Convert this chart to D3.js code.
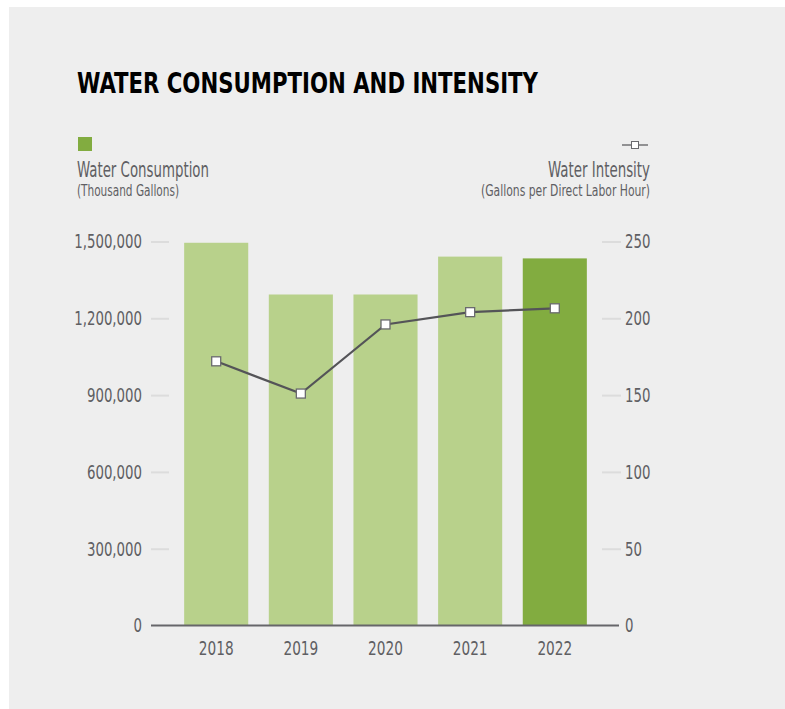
<!DOCTYPE html>
<html>
<head>
<meta charset="utf-8">
<script src="https://cdn.jsdelivr.net/npm/d3@7"></script>
<style>
  html, body { margin: 0; padding: 0; background: #fff; }
  svg { display: block; }
  text { font-family: "Liberation Sans Narrow", "DejaVu Sans Condensed", "Roboto", sans-serif; }
</style>
</head>
<body>
<svg id="chart"></svg>
<script>
// data
const years = ['2018', '2019', '2020', '2021', '2022'];
const consumption = [1495000, 1293000, 1293000, 1441000, 1434000];
const intensity = [172, 151, 196, 204, 206.5];
const leftTicks = [0, 300000, 600000, 900000, 1200000, 1500000];
const rightTicks = [0, 50, 100, 150, 200, 250];

const width = 785;
const height = 709;
const textColor = '#5f5f63';
const fontStack = '"Liberation Sans Narrow", "DejaVu Sans Condensed", sans-serif';

const svg = d3.select('#chart')
  .attr('width', width)
  .attr('height', height);

// squeeze text horizontally (the original font is a narrow one)
function squeeze(sel, k) {
  sel.each(function () {
    const len = this.getComputedTextLength();
    d3.select(this)
      .attr('textLength', len * k)
      .attr('lengthAdjust', 'spacingAndGlyphs');
  });
}

// card background
svg.append('rect')
  .attr('x', 9).attr('y', 7)
  .attr('width', width - 9).attr('height', height - 7)
  .attr('fill', '#eeeeee');

// title
svg.append('text')
  .attr('x', 77).attr('y', 93)
  .attr('font-size', 29)
  .attr('font-weight', 'bold')
  .attr('fill', '#000')
  .attr('textLength', 461)
  .attr('lengthAdjust', 'spacingAndGlyphs')
  .text('WATER CONSUMPTION AND INTENSITY');

// scales
const x = d3.scaleBand()
  .domain(years)
  .range([174, 597])
  .paddingInner(0.243)
  .paddingOuter(0.12);

const yLeft = d3.scaleLinear()
  .domain([0, 1500000])
  .range([625.5, 241.5]);

const yRight = d3.scaleLinear()
  .domain([0, 250])
  .range([625.5, 241.5]);

// left axis
const leftAxis = svg.append('g')
  .attr('transform', 'translate(169,0)')
  .call(d3.axisLeft(yLeft)
    .tickValues(leftTicks)
    .tickSize(18)
    .tickPadding(9)
    .tickFormat(d3.format(',')));

// right axis
const rightAxis = svg.append('g')
  .attr('transform', 'translate(602,0)')
  .call(d3.axisRight(yRight)
    .tickValues(rightTicks)
    .tickSize(19)
    .tickPadding(4)
    .tickFormat(d3.format('d')));

[leftAxis, rightAxis].forEach(g => {
  g.select('.domain').remove();
  g.selectAll('.tick line').attr('stroke', '#dcdcdc').attr('stroke-width', 2);
  g.selectAll('.tick text')
    .attr('fill', textColor)
    .attr('font-size', 20)
    .attr('font-family', fontStack)
    .call(squeeze, 0.74);
});
leftAxis.selectAll('.tick').filter(d => d === 0).select('line').remove();
rightAxis.selectAll('.tick').filter(d => d === 0).select('line').remove();

// bars
svg.append('g')
  .selectAll('rect')
  .data(years)
  .enter()
  .append('rect')
  .attr('x', d => x(d))
  .attr('y', (d, i) => yLeft(consumption[i]))
  .attr('width', x.bandwidth())
  .attr('height', (d, i) => yLeft(0) - yLeft(consumption[i]))
  .attr('fill', (d, i) => i === years.length - 1 ? '#82ac40' : '#b8d18b');

// baseline / x axis
const xAxis = svg.append('g')
  .attr('transform', `translate(0,${yLeft(0)})`)
  .call(d3.axisBottom(x).tickSize(0).tickPadding(15));
xAxis.select('.domain').remove();
xAxis.append('line')
  .attr('x1', 151).attr('x2', 619)
  .attr('stroke', '#66666a').attr('stroke-width', 2.2);
xAxis.selectAll('.tick text')
  .attr('fill', textColor)
  .attr('font-size', 20)
  .attr('font-family', fontStack)
  .call(squeeze, 0.76);

// intensity line
const line = d3.line()
  .x((d, i) => x(years[i]) + x.bandwidth() / 2)
  .y(d => yRight(d));

svg.append('path')
  .datum(intensity)
  .attr('d', line)
  .attr('fill', 'none')
  .attr('stroke', '#545458')
  .attr('stroke-width', 2.2);

svg.append('g')
  .selectAll('rect')
  .data(intensity)
  .enter()
  .append('rect')
  .attr('x', (d, i) => x(years[i]) + x.bandwidth() / 2 - 4.5)
  .attr('y', d => yRight(d) - 4.5)
  .attr('width', 9).attr('height', 9)
  .attr('fill', '#fff')
  .attr('stroke', '#6a6a6e')
  .attr('stroke-width', 1.3);

// legend left
svg.append('rect')
  .attr('x', 78).attr('y', 137)
  .attr('width', 14).attr('height', 14)
  .attr('fill', '#82ac40');

svg.append('text')
  .attr('x', 77).attr('y', 177)
  .attr('font-size', 21)
  .attr('fill', textColor)
  .attr('textLength', 132)
  .attr('lengthAdjust', 'spacingAndGlyphs')
  .text('Water Consumption');

svg.append('text')
  .attr('x', 77).attr('y', 196)
  .attr('font-size', 16)
  .attr('fill', textColor)
  .attr('textLength', 102)
  .attr('lengthAdjust', 'spacingAndGlyphs')
  .text('(Thousand Gallons)');

// legend right
svg.append('line')
  .attr('x1', 622).attr('x2', 648)
  .attr('y1', 145).attr('y2', 145)
  .attr('stroke', '#545458').attr('stroke-width', 1.2);
svg.append('rect')
  .attr('x', 631.5).attr('y', 141.5)
  .attr('width', 7).attr('height', 7)
  .attr('fill', '#fff')
  .attr('stroke', '#6a6a6e')
  .attr('stroke-width', 1);

svg.append('text')
  .attr('x', 548).attr('y', 177)
  .attr('font-size', 21)
  .attr('fill', textColor)
  .attr('textLength', 102)
  .attr('lengthAdjust', 'spacingAndGlyphs')
  .text('Water Intensity');

svg.append('text')
  .attr('x', 481).attr('y', 196)
  .attr('font-size', 16)
  .attr('fill', textColor)
  .attr('textLength', 169)
  .attr('lengthAdjust', 'spacingAndGlyphs')
  .text('(Gallons per Direct Labor Hour)');
</script>
</body>
</html>
